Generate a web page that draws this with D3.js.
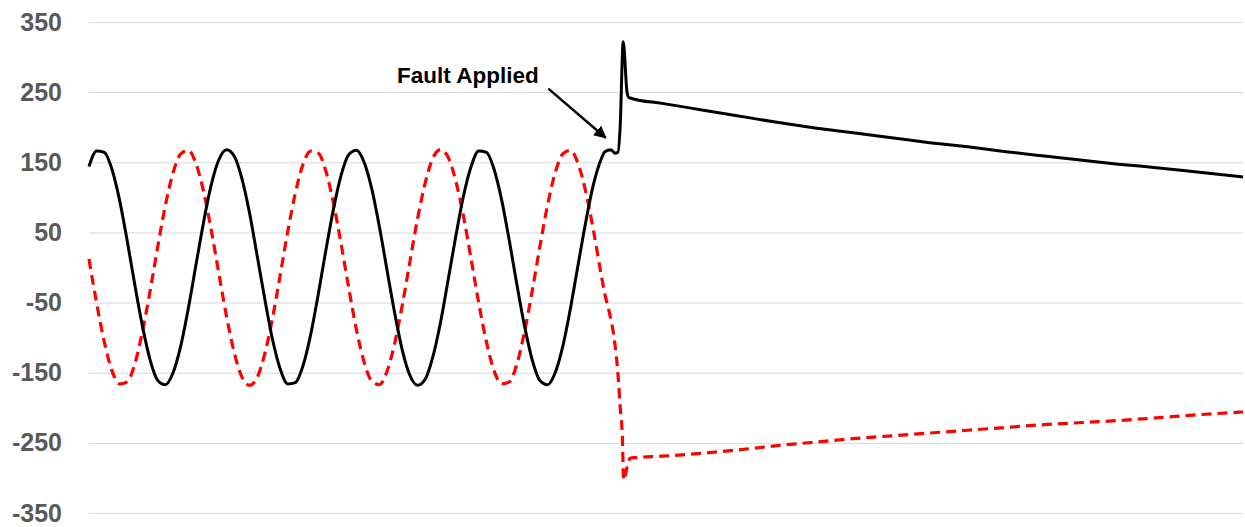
<!DOCTYPE html>
<html>
<head>
<meta charset="utf-8">
<script src="https://cdn.jsdelivr.net/npm/d3@7"></script>
<style>
  body { margin: 0; background: #fff; }
  svg { display: block; }
  .tick text { font-family: "Liberation Sans", Arial, sans-serif; font-weight: bold; font-size: 25px; fill: #595959; }
</style>
</head>
<body>
<div id="chart"></div>
<script>
// time in ms
const timeSine = d3.range(0, 68);   // 0..67 ms, 1 ms steps
const blackSine = [144, 166, 164, 140, 96, 38, -25, -84, -132, -161, -167, -150, -112, -58, 4, 65, 118, 154, 168, 159,
  127, 78, 17, -45, -102, -144, -166, -164, -140, -96, -38, 25, 84, 132, 161, 167, 150, 112, 58, -4,
  -65, -118, -154, -168, -159, -127, -78, -17, 45, 102, 144, 166, 164, 140, 96, 38, -25, -84, -132, -161,
  -167, -150, -112, -58, 4, 65, 118, 154];
const redSine = [12, -51, -106, -147, -166, -163, -137, -91, -33, 30, 89, 135, 162, 167, 148, 108, 53, -9, -70, -121,
  -156, -168, -157, -123, -73, -12, 51, 106, 147, 166, 163, 137, 91, 33, -30, -89, -135, -162, -167, -148,
  -108, -53, 9, 70, 121, 156, 168, 157, 123, 73, 12, -51, -106, -147, -166, -163, -137, -91, -33, 30,
  89, 135, 162, 167, 148, 108, 53, -9];

// around the fault
const blackFaultT = [67.5, 68.3, 68.6, 68.8, 69.2, 69.5, 69.9, 70.4, 70.6, 71];
const blackFaultV = [165, 168, 165, 163, 164, 200, 322, 250, 243, 241];
const redFaultT = [67.5, 68, 68.8, 69.2, 69.5, 69.8, 69.95, 70.4, 70.8, 71.5];
const redFaultV = [-38, -60, -108, -150, -198, -245, -303, -285, -272, -271];

// after the fault
const tailT = [75, 80, 85, 90, 95, 100, 105, 110, 115, 120, 125, 130, 135, 140, 145, 151];
const blackTail = [234, 225, 216, 207, 199, 192, 185, 178, 172, 165, 159, 153, 147, 142, 136, 129];
const redTail = [-269, -265, -260, -254, -249, -244, -240, -236, -232, -228, -224, -221, -218, -214, -210, -206];

const yTicks = [350, 250, 150, 50, -50, -150, -250, -350];

// annotation (time, value)
const noteText = "Fault Applied";
const noteAt = [40.3, 263];
const arrowFrom = [60.1, 255];
const arrowTo = [67.6, 185];

const width = 1245, height = 527;
const margin = { top: 22, right: 2, bottom: 14, left: 89 };

const svg = d3.select("#chart").append("svg")
  .attr("width", width)
  .attr("height", height);

const x = d3.scaleLinear().domain([0, 151]).range([margin.left, width - margin.right]);
const y = d3.scaleLinear().domain([-350, 350]).range([height - margin.bottom, margin.top]);

// gridlines + labels (plain hyphen for negatives, like the original)
const yAxis = d3.axisLeft(y)
  .tickValues(yTicks)
  .tickFormat(d => String(d))
  .tickSize(-(width - margin.right - margin.left))
  .tickPadding(27);
const gy = svg.append("g")
  .attr("transform", `translate(${margin.left},0)`)
  .call(yAxis);
gy.select(".domain").remove();
gy.selectAll(".tick line").attr("stroke", "#d9d9d9").attr("stroke-width", 1);

function build(tA, vA, tB, vB, tC, vC) {
  const pts = [];
  tA.forEach((t, i) => pts.push([t, vA[i]]));
  tB.forEach((t, i) => pts.push([t, vB[i]]));
  tC.forEach((t, i) => pts.push([t, vC[i]]));
  return pts;
}
const black = build(timeSine, blackSine, blackFaultT, blackFaultV, tailT, blackTail);
const red = build(timeSine, redSine, redFaultT, redFaultV, tailT, redTail);

const line = d3.line()
  .x(d => x(d[0]))
  .y(d => y(d[1]))
  .curve(d3.curveMonotoneX);

svg.append("path")
  .datum(red)
  .attr("fill", "none")
  .attr("stroke", "#ff0000")
  .attr("stroke-width", 3.2)
  .attr("stroke-dasharray", "10,6")
  .attr("d", line);

svg.append("path")
  .datum(black)
  .attr("fill", "none")
  .attr("stroke", "#000")
  .attr("stroke-width", 3)
  .attr("stroke-linejoin", "round")
  .attr("d", line);

// annotation
svg.append("defs").append("marker")
  .attr("id", "arrow")
  .attr("viewBox", "0 0 10 10")
  .attr("refX", 9).attr("refY", 5)
  .attr("markerWidth", 5).attr("markerHeight", 5)
  .attr("orient", "auto")
  .append("path")
  .attr("d", "M0,0L10,5L0,10z")
  .attr("fill", "#000");

svg.append("line")
  .attr("x1", x(arrowFrom[0])).attr("y1", y(arrowFrom[1]))
  .attr("x2", x(arrowTo[0])).attr("y2", y(arrowTo[1]))
  .attr("stroke", "#000")
  .attr("stroke-width", 2.5)
  .attr("marker-end", "url(#arrow)");

svg.append("text")
  .attr("x", x(noteAt[0]))
  .attr("y", y(noteAt[1]))
  .attr("font-family", "Liberation Sans, Arial, sans-serif")
  .attr("font-weight", "bold")
  .attr("font-size", 22.5)
  .attr("fill", "#000")
  .text(noteText);
</script>
</body>
</html>
